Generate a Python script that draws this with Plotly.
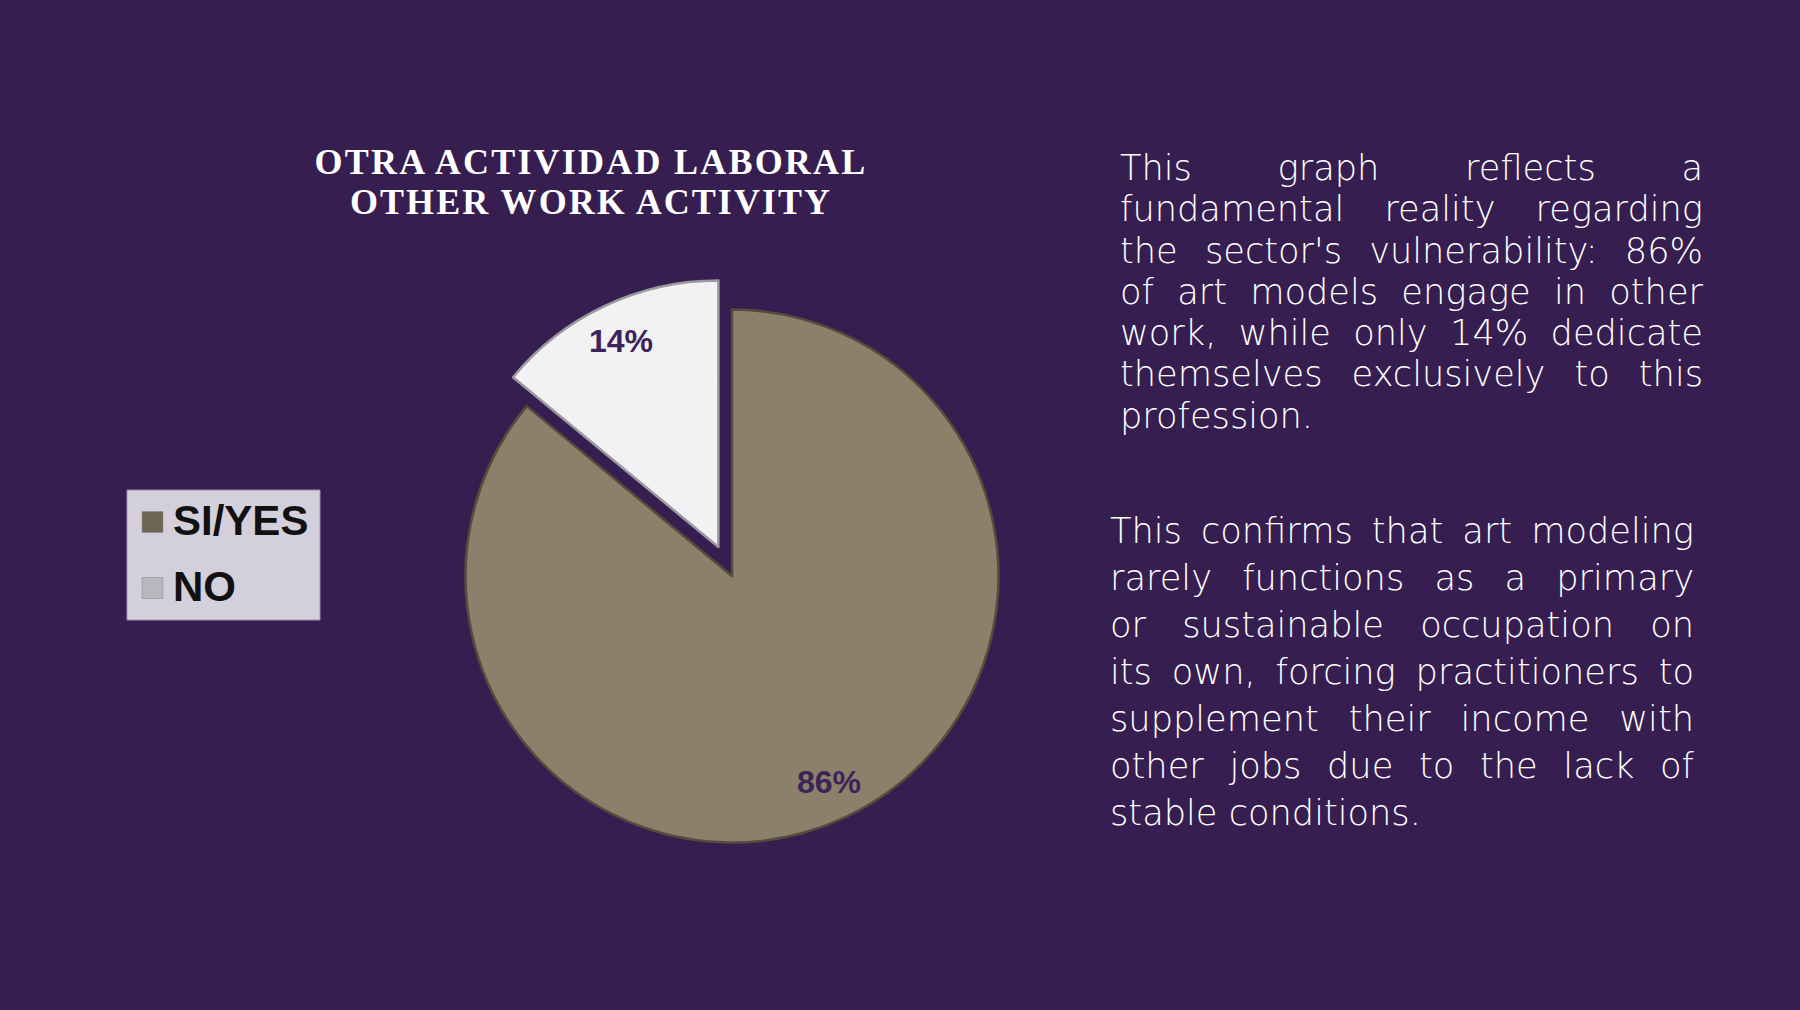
import json
import math
import plotly.graph_objects as go

W, H = 1800, 1010

# ---------------- data ----------------
labels = ["SI/YES", "NO"]
values = [86, 14]
pulls = [0, 0.12]
slice_colors = ["#8B806A", "#F2F2F4"]
slice_edges = ["#554D3C", "#9A9A9F"]
legend_swatches = ["#6E6552", "#B8B8BC"]

title_lines = ["OTRA ACTIVIDAD LABORAL", "OTHER WORK ACTIVITY"]

para1 = [
    "This graph reflects a",
    "fundamental reality regarding",
    "the sector's vulnerability: 86%",
    "of art models engage in other",
    "work, while only 14% dedicate",
    "themselves exclusively to this",
    "profession.",
]
para2 = [
    "This confirms that art modeling",
    "rarely functions as a primary",
    "or sustainable occupation on",
    "its own, forcing practitioners to",
    "supplement their income with",
    "other jobs due to the lack of",
    "stable conditions.",
]

BG = "#361E50"
LABEL_COLOR = "#3B2459"

# ---------------- helpers ----------------
def px(x):
    return x / W

def py(y):
    return 1 - y / H

# pie geometry (pixels)
cx, cy, r = 732, 576, 266.5
max_pull = max(pulls)
box = 2 * r * (1 + max_pull)
dom_x = [px(cx - box / 2), px(cx + box / 2)]
dom_y = [py(cy + box / 2), py(cy - box / 2)]

fig = go.Figure()
fig.add_trace(go.Pie(
    labels=labels,
    values=values,
    pull=pulls,
    sort=False,
    direction="clockwise",
    rotation=0,
    textinfo="none",
    hoverinfo="label+percent",
    marker=dict(colors=slice_colors, line=dict(color=slice_edges, width=2.5)),
    domain=dict(x=dom_x, y=dom_y),
    showlegend=False,
))

annotations = []
shapes = []

# percentage labels, positioned along each slice's bisector
total = sum(values)
cum = 0
for lab, v, p in zip(labels, values, pulls):
    f0 = cum / total
    cum += v
    f1 = cum / total
    th = 2 * math.pi * (f0 + f1) / 2
    d = (p + 0.855) * r
    lx = cx + d * math.sin(th)
    ly = cy - d * math.cos(th)
    annotations.append(dict(
        x=px(lx), y=py(ly), xref="paper", yref="paper",
        text=f"{round(100 * v / total)}%", showarrow=False,
        xanchor="center", yanchor="middle", borderpad=0,
        font=dict(family="Liberation Sans, Arial", size=32, color=LABEL_COLOR, weight="bold"),
    ))

# line-spacing / justification specs applied in the page (keyed by first line)
specs = {}

# title (one text block, two lines, letter-spaced to the reference widths)
TITLE_SIZE = 36
annotations.append(dict(
    x=px(591), y=py(173.3 - 0.891 * TITLE_SIZE), xref="paper", yref="paper",
    text="<br>".join(title_lines), showarrow=False,
    xanchor="center", yanchor="top", align="center", borderpad=0,
    font=dict(family="Liberation Serif, Times New Roman", size=TITLE_SIZE, color="#FFFFFF", weight="bold"),
))
specs[title_lines[0]] = {"step": 40.0, "mode": "letter", "widths": [553, 482]}

# custom legend
shapes.append(dict(type="rect", xref="paper", yref="paper",
                   x0=px(127), x1=px(320), y0=py(620), y1=py(490),
                   fillcolor="#D3CFDB", line=dict(color="#9C97A8", width=1), layer="above"))
for i, (lab, sw) in enumerate(zip(labels, legend_swatches)):
    yc = 522 + 66 * i
    shapes.append(dict(type="rect", xref="paper", yref="paper",
                       x0=px(142), x1=px(163), y0=py(yc + 10.5), y1=py(yc - 10.5),
                       fillcolor=sw, line=dict(color="#8A8690", width=0.5), layer="above"))
    annotations.append(dict(
        x=px(172), y=py(yc - 2), xref="paper", yref="paper", text=lab, showarrow=False,
        xanchor="left", yanchor="middle", align="left", borderpad=0,
        font=dict(family="Liberation Sans, Arial", size=42, color="#111111", weight="bold"),
    ))

# paragraphs (one text block each, justified in the page)
TXT_SIZE = 35.2
TXT_ASC = 0.928
for lines, left, right, base0, step in [(para1, 1119, 1702, 179, 41.25),
                                         (para2, 1109, 1693, 542, 47.0)]:
    annotations.append(dict(
        x=px(left), y=py(base0 - TXT_ASC * TXT_SIZE), xref="paper", yref="paper",
        text="<br>".join(lines), showarrow=False,
        xanchor="left", yanchor="top", align="left", borderpad=0,
        font=dict(family="DejaVu Sans, sans-serif", size=TXT_SIZE, color="#FFFFFF", weight=200),
    ))
    specs[lines[0]] = {"step": step, "mode": "word",
                       "widths": [right - left] * (len(lines) - 1) + [None]}

fig.update_layout(
    width=W, height=H,
    margin=dict(l=0, r=0, t=0, b=0),
    paper_bgcolor=BG, plot_bgcolor=BG,
    annotations=annotations, shapes=shapes,
    showlegend=False,
)

post = """
(function(){
  document.body.style.margin = '0';
  document.body.style.background = '%s';
  var specs = %s;
  function fix(){
    document.querySelectorAll('text.annotation-text').forEach(function(t){
      var lines = t.querySelectorAll('tspan.line');
      if(!lines.length) return;
      var sp = specs[lines[0].textContent];
      if(!sp) return;
      lines.forEach(function(l, k){
        l.setAttribute('dy', (k * sp.step) + 'px');
        var w = sp.widths[k];
        if(!w) return;
        var s = l.textContent;
        if(sp.mode === 'letter'){
          l.style.letterSpacing = '0px';
          var cur = l.getComputedTextLength();
          l.style.letterSpacing = ((w - cur) / s.length) + 'px';
        } else {
          var n = (s.match(/ /g) || []).length;
          if(!n) return;
          l.style.wordSpacing = '0px';
          var cur2 = l.getComputedTextLength();
          l.style.wordSpacing = ((w - cur2) / n) + 'px';
        }
      });
    });
  }
  fix();
  if(document.fonts && document.fonts.ready){ document.fonts.ready.then(fix); }
  setTimeout(fix, 200); setTimeout(fix, 800);
})();
""" % (BG, json.dumps(specs))

fig.write_html("out.html", post_script=post, config={"displayModeBar": False})
